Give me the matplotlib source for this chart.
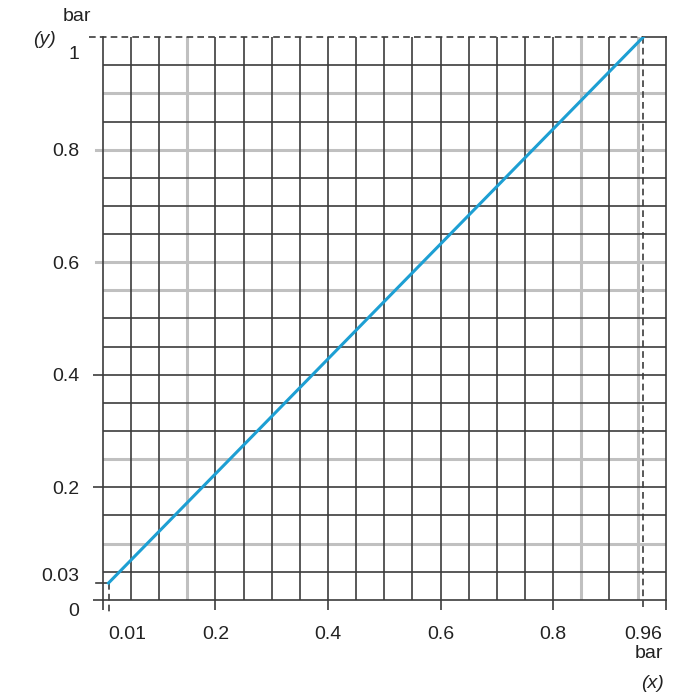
import numpy as np
import matplotlib.pyplot as plt
from matplotlib.transforms import ScaledTranslation

# line end points
x_vals = [0.01, 0.96]
y_vals = [0.03, 1.0]

x_tick_labels = ['0.01', '0.2', '0.4', '0.6', '0.8', '0.96']
x_tick_pos = [0.01, 0.2, 0.4, 0.6, 0.8, 0.96]
y_tick_labels = ['0', '0.03', '0.2', '0.4', '0.6', '0.8', '1']
y_tick_pos = [0, 0.03, 0.2, 0.4, 0.6, 0.8, 1.0]

# heavier light-grey grid lines
grey_x = [0.15, 0.85, 0.95]
grey_y = [0.1, 0.25, 0.55, 0.6, 0.8, 0.9]

DARK = '#3c3c3c'
GREY = '#c0c0c0'
BLUE = '#1d9fd3'
FS = 14

plt.rcParams['font.family'] = ['Liberation Sans', 'DejaVu Sans']
plt.rcParams['font.size'] = FS

fig = plt.figure(figsize=(7, 7), dpi=100)
ax = fig.add_axes([0.147, 0.143, 0.804, 0.804])
ax.set_xlim(0, 1)
ax.set_ylim(0, 1)

grid = np.round(np.arange(0, 1.0001, 0.05), 2)
for g in grid:
    if g in grey_x:
        ax.axvline(g, color=GREY, lw=2.2, zorder=1)
    elif 0 < g < 1:
        ax.axvline(g, color=DARK, lw=1.2, zorder=1.5)
    if g in grey_y:
        ax.axhline(g, color=GREY, lw=2.2, zorder=1)
    elif 0 < g < 1:
        ax.axhline(g, color=DARK, lw=1.2, zorder=1.5)

# grey lines at labelled y values run out past the axis like ticks
for g in [0.6, 0.8]:
    ax.plot([-0.013, 0], [g, g], color=GREY, lw=2.2, clip_on=False, zorder=1)

# top edge: solid only past the dashed guide
ax.plot([0.96, 1.0], [1, 1], color=DARK, lw=1.2, clip_on=False, zorder=2)

for side in ['left', 'bottom', 'right']:
    ax.spines[side].set_color(DARK)
    ax.spines[side].set_linewidth(1.2)
ax.spines['top'].set_visible(False)

# dashed guides at the line ends
ax.plot([-0.025, x_vals[1]], [y_vals[1], y_vals[1]], color=DARK, lw=1.2,
        ls=(0, (4, 2.5)), clip_on=False, zorder=3)
ax.plot([x_vals[1], x_vals[1]], [y_vals[1], -0.012], color=DARK, lw=1.2,
        ls=(0, (4, 2.5)), clip_on=False, zorder=3)
ax.plot([x_vals[0], x_vals[0]], [y_vals[0], -0.025], color=DARK, lw=1.2,
        ls=(0, (4, 2.5)), clip_on=False, zorder=3)
ax.plot([-0.013, x_vals[0]], [y_vals[0], y_vals[0]], color=DARK, lw=1.2,
        clip_on=False, zorder=3)

ax.plot(x_vals, y_vals, color=BLUE, lw=2.2, zorder=4)

# tick marks (no labels) on major, labels on minor
ax.xaxis.remove_overlapping_locs = False
ax.yaxis.remove_overlapping_locs = False
ax.set_xticks([0, 0.2, 0.4, 0.6, 0.8, 1.0], labels=[])
ax.set_yticks([0, 0.2, 0.4], labels=[])
ax.tick_params(which='major', length=7, width=1.2, color=DARK)
ax.set_xticks(x_tick_pos, labels=x_tick_labels, minor=True)
ax.set_yticks(y_tick_pos, labels=y_tick_labels, minor=True)
ax.tick_params(which='minor', length=0, labelsize=FS, colors='#222222')
ax.tick_params(axis='x', which='minor', pad=19)
ax.tick_params(axis='y', which='minor', pad=17)

y_shift = {'0': -10, '0.03': 9, '1': -15}
for lab in ax.get_yticklabels(minor=True):
    dy = y_shift.get(lab.get_text(), 0)
    if dy:
        lab.set_transform(lab.get_transform() + ScaledTranslation(0, dy / 100, fig.dpi_scale_trans))
for lab in ax.get_xticklabels(minor=True):
    if lab.get_text() == '0.01':
        lab.set_ha('left')

fig.text(0.110, 0.976, 'bar', ha='center', va='center', fontsize=FS, color='#222222')
fig.text(0.063, 0.943, '(y)', ha='center', va='center', fontsize=FS, style='italic', color='#222222')
fig.text(0.948, 0.067, 'bar', ha='right', va='center', fontsize=FS, color='#222222')
fig.text(0.948, 0.024, '(x)', ha='right', va='center', fontsize=FS, style='italic', color='#222222')

fig.savefig('out.png', dpi=100)
